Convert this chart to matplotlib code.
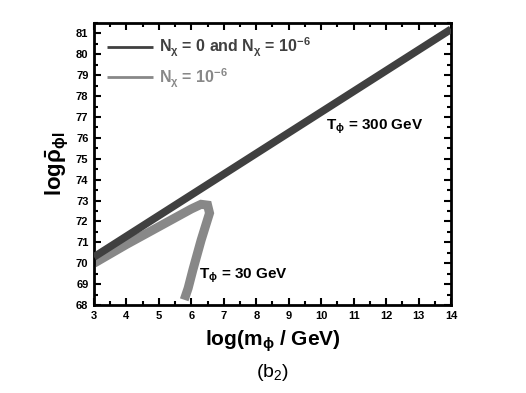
import matplotlib
matplotlib.use("Agg")
import matplotlib.pyplot as plt
from matplotlib.ticker import MultipleLocator

plt.rcParams['font.family'] = ['Liberation Sans', 'DejaVu Sans']
plt.rcParams['mathtext.fontset'] = 'custom'
plt.rcParams['mathtext.rm'] = 'Liberation Sans:bold'
plt.rcParams['mathtext.it'] = 'Liberation Sans:bold'
plt.rcParams['mathtext.bf'] = 'Liberation Sans:bold'
plt.rcParams['mathtext.sf'] = 'Liberation Sans'

# T_phi = 300 GeV line (N_chi = 0 and N_chi = 1e-6 coincide)
dark_x = [3.0, 14.0]
dark_y = [70.3, 81.2]

# T_phi = 30 GeV curve, N_chi = 1e-6
gray_x = [3.0, 4.0, 5.0, 6.0, 6.3, 6.5, 6.56, 6.3, 6.05, 5.9, 5.78]
gray_y = [70.0, 70.9, 71.75, 72.6, 72.82, 72.78, 72.4, 71.1, 69.7, 68.8, 68.25]

dark_color = '#404040'
gray_color = '#888888'

fig = plt.figure(figsize=(5.26, 3.93), dpi=100)
ax = fig.add_axes([0.1787, 0.2239, 0.6787, 0.7176])

ax.plot(dark_x, dark_y, color=dark_color, lw=5.5, solid_capstyle='butt',
        label=r'$N_\chi$ = 0 and $N_\chi$ = 10$^{-6}$', zorder=3)
ax.plot(gray_x, gray_y, color=gray_color, lw=6.5, solid_capstyle='butt',
        solid_joinstyle='miter', label=r'$N_\chi$ = 10$^{-6}$', zorder=2)

ax.set_xlim(3, 14)
ax.set_ylim(68, 81.5)
ax.xaxis.set_major_locator(MultipleLocator(1))
ax.xaxis.set_minor_locator(MultipleLocator(0.5))
ax.yaxis.set_major_locator(MultipleLocator(1))
ax.yaxis.set_minor_locator(MultipleLocator(0.5))
ax.tick_params(which='both', direction='in', top=True, right=True, width=1.5)
ax.tick_params(which='major', length=5, labelsize=8, pad=4)
ax.tick_params(which='minor', length=3)
for lab in ax.get_xticklabels() + ax.get_yticklabels():
    lab.set_fontweight('bold')
for sp in ax.spines.values():
    sp.set_linewidth(2)

ax.set_xlabel(r'log(m$_\phi$ / GeV)', fontsize=15, fontweight='bold', labelpad=6)
ax.set_ylabel(r'log$\bar{\rho}_{\phi I}$', fontsize=16, fontweight='bold', labelpad=4)
fig.text(0.5175, 0.052, r'(b$_\mathsf{2}$)', fontsize=14, ha='center', va='center')

ax.text(10.15, 76.55, r'T$_\phi$ = 300 GeV', fontsize=11, fontweight='bold', va='center')
ax.text(6.25, 69.4, r'T$_\phi$ = 30 GeV', fontsize=11, fontweight='bold', va='center')

leg = ax.legend(loc='upper left', frameon=False, fontsize=11.5, handlelength=2.9,
                handletextpad=0.35, labelspacing=0.45, borderaxespad=0.4)
for line in leg.get_lines():
    line.set_linewidth(2)
for txt, col in zip(leg.get_texts(), [dark_color, gray_color]):
    txt.set_color(col)
    txt.set_fontweight('bold')

fig.savefig('out.png', dpi=100)
